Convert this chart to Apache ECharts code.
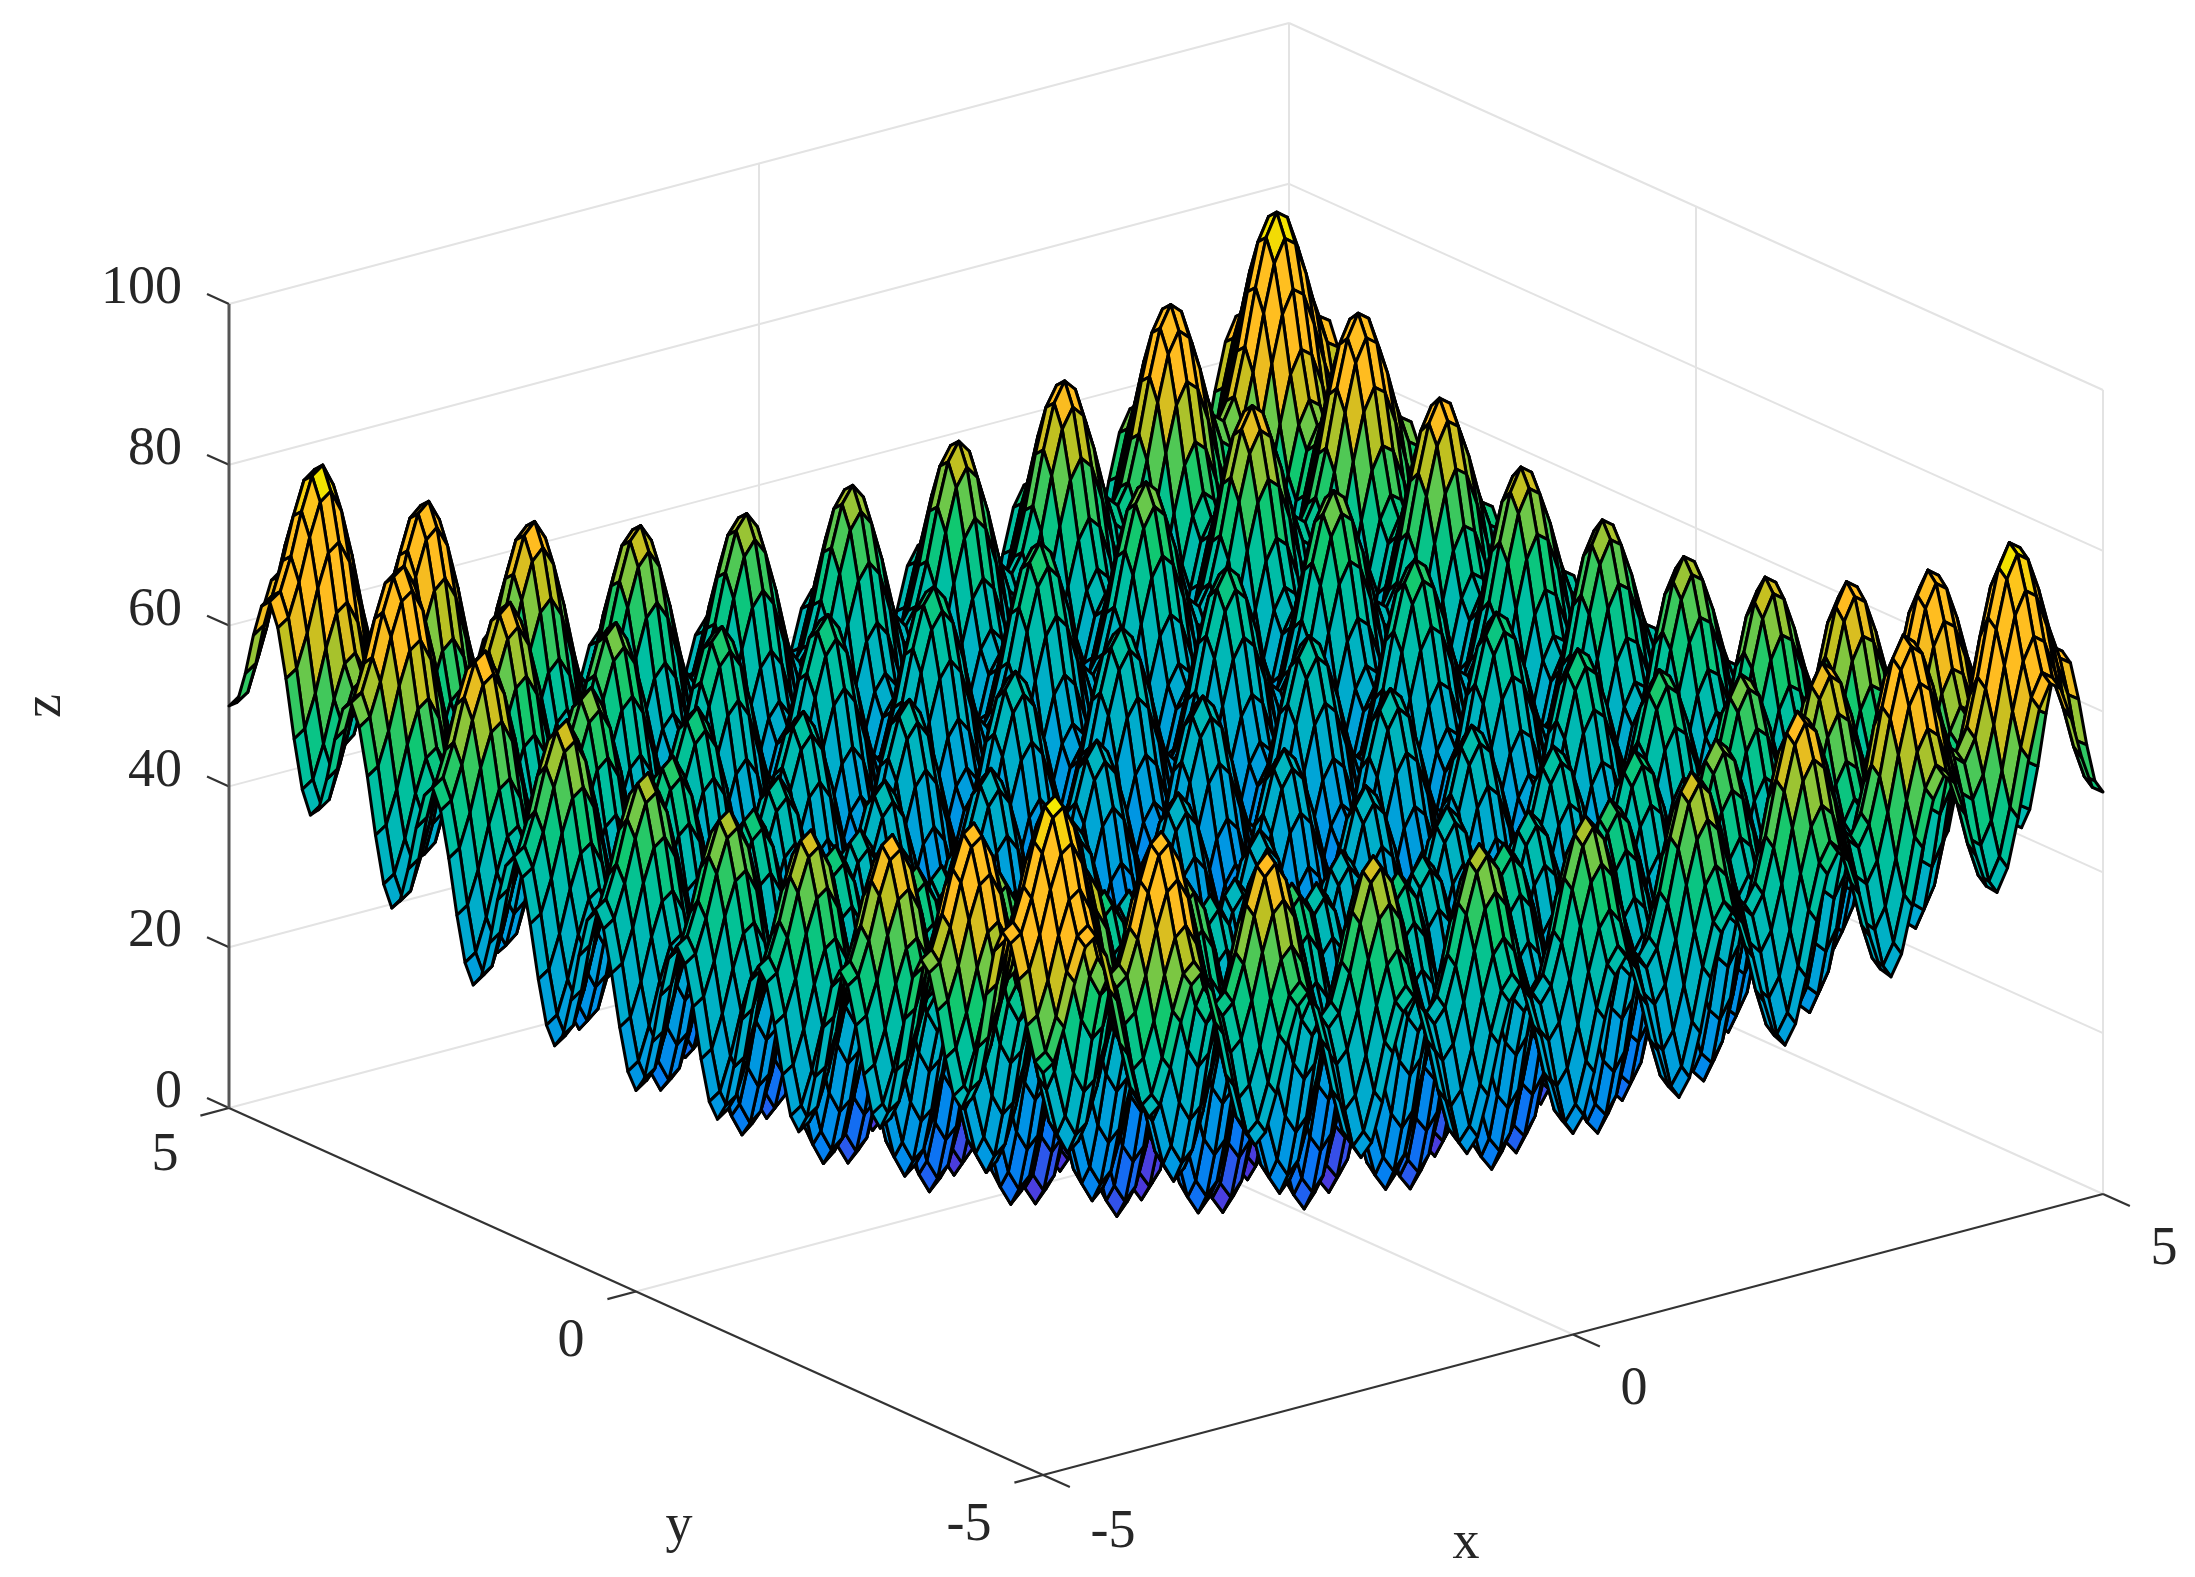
<!DOCTYPE html>
<html><head><meta charset="utf-8">
<style>html,body{margin:0;padding:0;background:#fff}#c{width:2195px;height:1577px}canvas{filter:blur(.6px)}</style>
<script src="https://cdn.jsdelivr.net/npm/echarts@6/dist/echarts.min.js"></script>
</head><body><div id="c"></div>
<script>
// ---- data ----
const xProfile = [25,25.92,29.95,35.18,39.25,40.25,37.45,31.58,24.55,18.72,16,17.12,21.35,26.78,31.05,32.25,29.65,23.98,17.15,11.52,9,10.32,14.75,20.38,24.85,26.25,23.85,18.38,11.75,6.32,4,5.52,10.15,15.98,20.65,22.25,20.05,14.78,8.35,3.12,1,2.72,7.55,13.58,18.45,20.25,18.25,13.18,6.95,1.92,0,1.92,6.95,13.18,18.25,20.25,18.45,13.58,7.55,2.72,1,3.12,8.35,14.78,20.05,22.25,20.65,15.98,10.15,5.52,4,6.32,11.75,18.38,23.85,26.25,24.85,20.38,14.75,10.32,9,11.52,17.15,23.98,29.65,32.25,31.05,26.78,21.35,17.12,16,18.72,24.55,31.58,37.45,40.25,39.25,35.18,29.95,25.92,25];
const yProfile = [25,25.92,29.95,35.18,39.25,40.25,37.45,31.58,24.55,18.72,16,17.12,21.35,26.78,31.05,32.25,29.65,23.98,17.15,11.52,9,10.32,14.75,20.38,24.85,26.25,23.85,18.38,11.75,6.32,4,5.52,10.15,15.98,20.65,22.25,20.05,14.78,8.35,3.12,1,2.72,7.55,13.58,18.45,20.25,18.25,13.18,6.95,1.92,0,1.92,6.95,13.18,18.25,20.25,18.45,13.58,7.55,2.72,1,3.12,8.35,14.78,20.05,22.25,20.65,15.98,10.15,5.52,4,6.32,11.75,18.38,23.85,26.25,24.85,20.38,14.75,10.32,9,11.52,17.15,23.98,29.65,32.25,31.05,26.78,21.35,17.12,16,18.72,24.55,31.58,37.45,40.25,39.25,35.18,29.95,25.92,25];
const xTicks = [-5,0,5];
const yTicks = [-5,0,5];
const zTicks = [0,20,40,60,80,100];
const gridStep = 0.1;

// ---- view (plot-plane units of the hidden axes) ----
const ORIGIN = [1043,1475], X_SPAN = [1060,-281], Y_SPAN = [-814,-367], Z_PER_UNIT = 8.04;
function project(x,y,z){
  const u=(x+5)/10, v=(y+5)/10;
  return [ORIGIN[0]+u*X_SPAN[0]+v*Y_SPAN[0], ORIGIN[1]+u*X_SPAN[1]+v*Y_SPAN[1]-z*Z_PER_UNIT];
}
const colorStops = [[0,[74,47,214]],[.1,[74,64,224]],[.15,[32,96,240]],[.21,[8,120,244]],[.30,[0,144,232]],[.40,[0,164,216]],[.50,[0,180,192]],[.58,[0,192,160]],[.645,[16,200,112]],[.70,[112,200,72]],[.745,[192,192,32]],[.78,[240,188,32]],[.80,[255,188,32]],[.94,[255,192,32]],[.97,[240,224,0]],[1,[248,240,0]]];
const zMax = 80.5;
function colorOf(z){
  const t=Math.min(1,Math.max(0,z/zMax));
  for(let k=1;k<colorStops.length;k++){
    if(t<=colorStops[k][0]){
      const a=colorStops[k-1],b=colorStops[k],f=(t-a[0])/(b[0]-a[0]);
      return 'rgb('+[0,1,2].map(c=>Math.round(a[1][c]+f*(b[1][c]-a[1][c]))).join(',')+')';
    }
  }
  return 'rgb(248,240,0)';
}
const zAt=(i,j)=>xProfile[i]+yProfile[j];
const coordOf=v=>-5+v*gridStep;

// cells ordered back to front
const cells=[];
for(let i=xProfile.length-2;i>=0;i--) for(let j=yProfile.length-2;j>=0;j--) cells.push([i,j]);

// wall / floor grid, axes, ticks as 3D segments
const gridSegs=[], axisSegs=[], spine=[[[-5,5,0],[-5,5,100]]];
zTicks.forEach(z=>{gridSegs.push([[-5,5,z],[5,5,z]]);gridSegs.push([[5,5,z],[5,-5,z]]);});
gridSegs.push([[5,5,0],[5,5,100]],[[0,5,0],[0,5,100]],[[5,0,0],[5,0,100]],[[5,-5,0],[5,-5,100]]);
gridSegs.push([[0,-5,0],[0,5,0]],[[-5,0,0],[5,0,0]]);
axisSegs.push([[-5,-5,0],[5,-5,0]],[[-5,-5,0],[-5,5,0]]);
zTicks.forEach(z=>axisSegs.push([[-5,5,z],[-5,5.27,z]]));
yTicks.forEach(y=>axisSegs.push([[-5,y,0],[-5.27,y,0]]));
xTicks.forEach(x=>axisSegs.push([[x,-5,0],[x,-5.33,0]]));

const FONT='"Liberation Serif"', INK='#262626';
const labels=[];
zTicks.forEach(z=>labels.push({t:String(z),at:[-5,5,z],dx:-47,dy:-15,align:'right'}));
[[5,-64,48],[0,-65,50],[-5,-74,51]].forEach(a=>labels.push({t:String(a[0]),at:[-5,a[0],0],dx:a[1],dy:a[2],align:'center'}));
[[-5,70,58],[0,61,55],[5,61,56]].forEach(a=>labels.push({t:String(a[0]),at:[a[0],-5,0],dx:a[1],dy:a[2],align:'center'}));
const names=[{t:'x',at:[0,-5,0],dx:-107,dy:209},{t:'y',at:[-5,0,0],dx:43,dy:235},{t:'z',at:[-5,5,50],dx:-183,dy:0,rot:Math.PI/2}];

function segSeries(segs,color,width,z){
  return {type:'custom',coordinateSystem:'cartesian2d',silent:true,animation:false,clip:false,z,
    data:segs.map((_,k)=>[k]),encode:{x:0,y:0},
    renderItem(p,api){
      const s=segs[p.dataIndex];
      const a=api.coord(project(s[0][0],s[0][1],s[0][2])),b=api.coord(project(s[1][0],s[1][1],s[1][2]));
      return {type:'line',shape:{x1:a[0],y1:a[1],x2:b[0],y2:b[1]},style:{stroke:color,lineWidth:width,fill:null}};
    }};
}
function textSeries(items,size,z){
  return {type:'custom',coordinateSystem:'cartesian2d',silent:true,animation:false,clip:false,z,
    data:items.map((_,k)=>[k]),encode:{x:0,y:0},
    renderItem(p,api){
      const it=items[p.dataIndex];
      const c=api.coord(project(it.at[0],it.at[1],it.at[2]));
      return {type:'text',x:c[0]+it.dx,y:c[1]+it.dy,rotation:it.rot||0,
        style:{text:it.t,fill:INK,font:size+'px '+FONT,align:it.align||'center',verticalAlign:'middle'}};
    }};
}

const chart=echarts.init(document.getElementById('c'),null,{renderer:'canvas',width:2195,height:1577});
chart.setOption({
  backgroundColor:'#fff',animation:false,tooltip:{show:false},
  grid:{left:0,right:0,top:0,bottom:0},
  xAxis:{type:'value',min:0,max:2195,show:false},
  yAxis:{type:'value',min:0,max:1577,inverse:true,show:false},
  series:[
    segSeries(gridSegs,'#e3e3e3',2,1),
    segSeries(axisSegs,'#333333',2.2,2),
    segSeries(spine,'#555555',3,2),
    {type:'custom',coordinateSystem:'cartesian2d',silent:true,animation:false,clip:false,z:3,progressive:0,
      data:cells,encode:{x:0,y:1},
      renderItem(p,api){
        const i=api.value(0),j=api.value(1);
        const corners=[[i,j],[i+1,j],[i+1,j+1],[i,j+1]];
        const pts=corners.map(q=>api.coord(project(coordOf(q[0]),coordOf(q[1]),zAt(q[0],q[1]))));
        const avg=(zAt(i,j)+zAt(i+1,j)+zAt(i+1,j+1)+zAt(i,j+1))/4;
        return {type:'polygon',shape:{points:pts},style:{fill:colorOf(avg),stroke:'#000',lineWidth:3,lineJoin:'round'}};
      }},
    textSeries(labels,54,4),
    textSeries(names,54,4)
  ]
});
</script></body></html>
